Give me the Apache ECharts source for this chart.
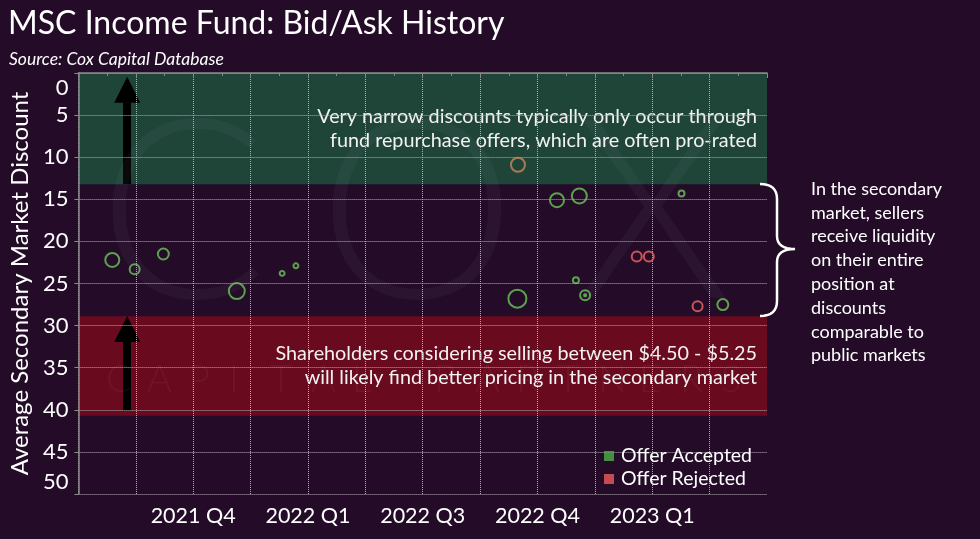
<!DOCTYPE html>
<html><head><meta charset="utf-8">
<script src="https://cdn.jsdelivr.net/npm/echarts@6/dist/echarts.min.js"></script>
<style>html,body{margin:0;padding:0;background:#240c28;}#c{width:980px;height:539px;}</style>
</head><body><div id="c"></div>
<script>
// ---- data ----
const xLabelPeriods = [2, 4, 6, 8, 10];
const xLabelTexts = ['2021 Q4', '2022 Q1', '2022 Q3', '2022 Q4', '2023 Q1'];
const yMin = 0, yMax = 50, yStep = 5;

const acceptedPeriod   = [0.59, 0.98, 1.48, 2.76, 3.55, 3.79, 7.65, 8.34, 8.73, 8.67, 8.83, 8.83, 10.51, 11.23];
const acceptedDiscount = [22.2, 23.3, 21.5, 25.9, 23.8, 22.9, 26.8, 15.1, 14.6, 24.6, 26.4, 26.4, 14.3, 27.5];
const acceptedVolume   = [49, 25, 30, 64, 6, 6, 81, 49, 56, 9, 25, 1, 9, 30];

const rejectedPeriod   = [9.73, 9.94, 10.79];
const rejectedDiscount = [21.8, 21.8, 27.7];
const rejectedVolume   = [25, 25, 25];

const mixedPeriod   = [7.66];
const mixedDiscount = [10.9];
const mixedVolume   = [49];

const repurchaseZone = [0, 13.2];
const publicZone = [28.9, 40.7];
const arrowPeriod = 0.85;

// ---- chart ----
const zip = (a, b, c) => a.map((v, i) => [v, b[i], c[i]]);
const size = d => 2 * Math.sqrt(d[2]);
const FONT = 'Lato';
const chart = echarts.init(document.getElementById('c'));
const hollow = (col) => ({ color: 'rgba(0,0,0,0)', borderColor: col, borderWidth: 2 });
const gridStyle = { color: '#b4acb6', type: 'dotted', width: 1 };

// brace outline (annotation, not data)
function quad(p0, c, p1, n) {
  const pts = [];
  for (let i = 0; i <= n; i++) {
    const t = i / n, u = 1 - t;
    pts.push([u*u*p0[0] + 2*u*t*c[0] + t*t*p1[0], u*u*p0[1] + 2*u*t*c[1] + t*t*p1[1]]);
  }
  return pts;
}
const bracePts = [].concat(
  quad([760,184],[777,184],[777,199],8),
  quad([777,236],[777,249],[795,249],8),
  quad([795,249],[777,249],[777,262],8),
  quad([777,301],[777,316],[760,316],8)
);

// watermark letters (decoration)
const wmLetters = 'CAPITAL PARTNERS'.split('');
const watermark = wmLetters.map((ch, i) => ({
  type: 'text', zlevel: 1, z: 100, x: 106 + i * 41, y: 361, silent: true,
  style: { text: ch, fontSize: 38, fontFamily: FONT, fontWeight: 300, fill: 'rgba(255,255,255,0.045)' }
}));
const bigLetter = (ch, x) => ({ type: 'text', zlevel: 1, z: 100, x: x, y: 92, silent: true,
  style: { text: ch, fontSize: 250, fontFamily: FONT, fontWeight: 300, fill: 'rgba(255,255,255,0.035)' } });

chart.setOption({
  backgroundColor: '#240c28',
  animation: false,
  textStyle: { fontFamily: FONT },
  title: [
    { text: 'MSC Income Fund: Bid/Ask History', left: 3, top: 3,
      textStyle: { color: '#ffffff', fontSize: 32, fontWeight: 'normal', fontFamily: FONT } },
    { text: 'Source: Cox Capital Database', left: 4, top: 45,
      textStyle: { color: '#ffffff', fontSize: 17.5, fontStyle: 'italic', fontWeight: 'normal', fontFamily: FONT } }
  ],
  legend: {
    orient: 'vertical', left: 599, top: 441, itemWidth: 10, itemHeight: 10, itemGap: 3,
    icon: 'rect', zlevel: 1,
    textStyle: { color: '#ffffff', fontSize: 19.5, fontFamily: FONT, padding: [0, 0, 0, 2] },
    data: [
      { name: 'Offer Accepted', itemStyle: { color: '#4caf48', borderWidth: 0 } },
      { name: 'Offer Rejected', itemStyle: { color: '#ec5b5b', borderWidth: 0 } }
    ]
  },
  grid: { left: 78, right: 213, top: 73, bottom: 45 },
  xAxis: {
    type: 'value', min: 0, max: 12, interval: 1, zlevel: 1, z: 0,
    axisLine: { show: true, lineStyle: { color: '#8a8a8a', width: 1.5 } },
    axisTick: { show: true, length: 5, lineStyle: { color: '#8a8a8a' } },
    minorTick: { show: true, splitNumber: 2, length: 3, lineStyle: { color: '#8a8a8a' } },
    splitLine: { show: true, showMaxLine: false, lineStyle: gridStyle },
    axisLabel: {
      color: '#ffffff', fontSize: 21.5, margin: 11, fontFamily: FONT,
      formatter: v => { const i = xLabelPeriods.indexOf(v); return i >= 0 ? xLabelTexts[i] : ''; }
    }
  },
  yAxis: {
    type: 'value', inverse: true, min: yMin, max: yMax, interval: yStep, zlevel: 1, z: 0,
    name: 'Average Secondary Market Discount', nameLocation: 'middle', nameGap: 42,
    nameTextStyle: { color: '#ffffff', fontSize: 24, fontFamily: FONT },
    axisLine: { show: true, lineStyle: { color: '#8a8a8a', width: 1.5 } },
    axisTick: { show: true, length: 4, lineStyle: { color: '#8a8a8a' } },
    splitLine: { show: true, lineStyle: gridStyle },
    axisLabel: {
      color: '#ffffff', fontSize: 22, margin: 10, fontFamily: FONT,
      formatter: v => v === yMin ? '{lo|' + v + '}' : (v === yMax ? '{hi|' + v + '}' : String(v)),
      rich: {
        lo: { color: '#ffffff', fontSize: 22, fontFamily: FONT, padding: [30, 0, 0, 0] },
        hi: { color: '#ffffff', fontSize: 22, fontFamily: FONT, padding: [0, 0, 24, 0] }
      }
    }
  },
  graphic: [bigLetter('C', 98), bigLetter('O', 318), bigLetter('X', 575)].concat(watermark).concat([
    { type: 'polyline', zlevel: 1, z: 10, shape: { points: bracePts },
      style: { stroke: '#ffffff', lineWidth: 2.5, fill: null } },
    { type: 'text', zlevel: 1, z: 10, x: 811, y: 177,
      style: { text: 'In the secondary\nmarket, sellers\nreceive liquidity\non their entire\nposition at\ndiscounts\ncomparable to\npublic markets',
        fontSize: 18, lineHeight: 23.8, fontFamily: FONT, fill: '#ffffff' } }
  ]),
  series: [
    {
      name: 'Zones', type: 'scatter', data: [], zlevel: 0, z: 1, silent: true,
      markArea: {
        silent: true,
        label: { show: true, position: 'insideRight', distance: 10, color: '#f2f2f2', fontSize: 19.8, lineHeight: 24, fontFamily: FONT, align: 'right' },
        data: [
          [{ xAxis: 'min', yAxis: repurchaseZone[0], itemStyle: { color: '#1f4438' },
             name: 'Very narrow discounts typically only occur through\nfund repurchase offers, which are often pro-rated' },
           { xAxis: 'max', yAxis: repurchaseZone[1] }],
          [{ xAxis: 'min', yAxis: publicZone[0], itemStyle: { color: '#6a0a1f' },
             name: 'Shareholders considering selling between $4.50 - $5.25\nwill likely find better pricing in the secondary market' },
           { xAxis: 'max', yAxis: publicZone[1] }]
        ]
      }
    },
    {
      name: 'Arrows', type: 'scatter', data: [], zlevel: 1, z: 4, silent: true,
      markLine: {
        silent: true, symbol: ['none', 'none'], label: { show: false },
        lineStyle: { color: '#000000', width: 8, type: 'solid' },
        data: [
          [{ coord: [arrowPeriod, repurchaseZone[1]] }, { coord: [arrowPeriod, repurchaseZone[0] + 3.5] }],
          [{ coord: [arrowPeriod, publicZone[1] - 0.6] }, { coord: [arrowPeriod, publicZone[0] + 2.9] }]
        ]
      },
      markPoint: {
        silent: true, symbol: 'triangle', symbolSize: [26, 26], label: { show: false },
        itemStyle: { color: '#000000' },
        data: [
          { coord: [arrowPeriod, repurchaseZone[0] + 2.0] },
          { coord: [arrowPeriod, publicZone[0] + 1.5] }
        ]
      }
    },
    { name: 'Offer Accepted', type: 'scatter', zlevel: 1, z: 5, data: zip(acceptedPeriod, acceptedDiscount, acceptedVolume),
      symbolSize: size, itemStyle: hollow('#6cc55a') },
    { name: 'Offer Rejected', type: 'scatter', zlevel: 1, z: 5, data: zip(rejectedPeriod, rejectedDiscount, rejectedVolume),
      symbolSize: size, itemStyle: hollow('#f26666') },
    { name: 'Partially Accepted', type: 'scatter', zlevel: 1, z: 5, data: zip(mixedPeriod, mixedDiscount, mixedVolume),
      symbolSize: size, itemStyle: hollow('#c8875f') }
  ]
});
</script></body></html>
